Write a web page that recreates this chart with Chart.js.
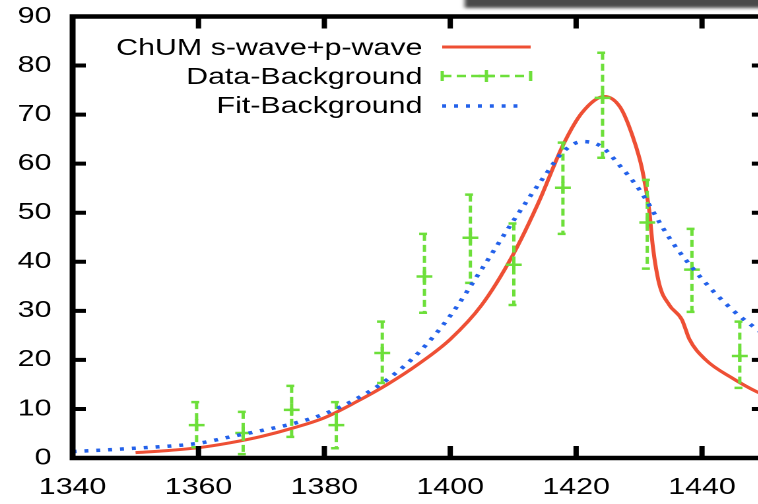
<!DOCTYPE html>
<html>
<head>
<meta charset="utf-8">
<script src="https://cdn.jsdelivr.net/npm/chart.js@4.4.0/dist/chart.umd.min.js"></script>
<style>
  html, body { margin: 0; padding: 0; background: #fff; overflow: hidden; width: 758px; height: 504px; }
  /* the source picture is stretched sideways, so the whole chart is too */
  #wrap { width: 600px; height: 504px; transform: scaleX(1.32); transform-origin: 0 0; }
</style>
</head>
<body>
<div id="wrap"><canvas id="c" width="600" height="504"></canvas></div>
<script>
const xTickValues = [1340, 1360, 1380, 1400, 1420, 1440];
const yTickValues = [0, 10, 20, 30, 40, 50, 60, 70, 80, 90];

const seriesNames = ['ChUM s-wave+p-wave', 'Data-Background', 'Fit-Background'];

// ChUM s-wave+p-wave (red, solid)
const chumX = [1350, 1355, 1360, 1365, 1370, 1375, 1380, 1385, 1390, 1395, 1400, 1405, 1410, 1414,
               1418, 1421, 1424.5, 1427, 1429, 1430.5, 1431.6, 1432.2, 1433.2, 1434.8, 1436.8, 1438,
               1440.6, 1444.8, 1448.7, 1450];
const chumY = [1.1, 1.5, 2.1, 3.1, 4.4, 6.1, 8.2, 11.4, 15.0, 19.2, 24.2, 31.2, 41.5, 52.0,
               64.0, 70.5, 73.7, 71.5, 65.5, 58.8, 50.6, 43.0, 35.5, 31.2, 28.2, 24.2,
               20.0, 16.3, 13.5, 12.8];

// Data-Background (green points with error bars)
const dataX    = [1359.7, 1367.1, 1374.8, 1381.9, 1389.2, 1395.9, 1403.2, 1410.1, 1417.9, 1424.2, 1431.3, 1438.4, 1446.0];
const dataY    = [6.7, 5.1, 9.8, 6.7, 21.4, 37.0, 44.9, 39.4, 55.1, 73.4, 48.0, 38.4, 20.8];
const dataLow  = [2.2, 0.8, 4.3, 2.0, 15.3, 29.6, 35.7, 31.2, 45.7, 61.2, 38.6, 29.8, 14.3];
const dataHigh = [11.4, 9.4, 14.7, 11.4, 27.8, 45.7, 53.7, 47.8, 64.3, 82.6, 56.7, 46.7, 27.8];

// Fit-Background (blue, dotted)
const fitX = [1340, 1350, 1360, 1365, 1370, 1375, 1380, 1385, 1390, 1395, 1400, 1405, 1410, 1415,
              1418, 1421, 1424, 1427, 1430, 1435, 1440, 1445, 1450];
const fitY = [1.3, 2.0, 3.0, 4.3, 5.6, 7.0, 9.0, 12.0, 16.0, 21.5, 29.0, 38.5, 48.3, 57.5,
              62.5, 64.5, 63.5, 59.5, 54.8, 44.5, 36.5, 30.0, 25.0];

const RED = '#ee4f34', GREEN = '#6ddf3a', BLUE = '#2361ea';
const FONT = '"Liberation Sans", Arial, Helvetica, sans-serif';
const errDash = [7, 4];

const pts = (xs, ys) => xs.map((x, i) => ({ x: x, y: ys[i] }));

// no extra room for labels at the ends of the axes
const noPad = s => { s.paddingTop = 0; s.paddingBottom = 0; s.paddingLeft = 0; s.paddingRight = 0; };

// grey window shadow at the top edge of the screenshot
const shadowPlugin = {
  id: 'shadow',
  beforeDraw(chart) {
    const ctx = chart.ctx;
    ctx.save();
    ctx.fillStyle = '#fff';
    ctx.fillRect(0, 0, chart.width, chart.height);
    ctx.filter = 'blur(3px)';
    ctx.fillStyle = '#4a4a4a';
    ctx.fillRect(352, -12, 300, 20);
    ctx.restore();
  }
};

// error bars, drawn just before the green markers
const errorBarPlugin = {
  id: 'errorBars',
  beforeDatasetDraw(chart, args) {
    if (args.index !== 1) return;
    const ctx = chart.ctx, xs = chart.scales.x, ys = chart.scales.y, a = chart.chartArea;
    ctx.save();
    ctx.beginPath();
    ctx.rect(a.left, a.top, a.right - a.left, a.bottom - a.top);
    ctx.clip();
    ctx.strokeStyle = GREEN;
    ctx.lineWidth = 2.5;
    ctx.setLineDash(errDash);
    dataX.forEach((v, i) => {
      const px = xs.getPixelForValue(v);
      const lo = ys.getPixelForValue(dataLow[i]);
      const hi = ys.getPixelForValue(dataHigh[i]);
      ctx.beginPath();
      ctx.moveTo(px, hi); ctx.lineTo(px, lo);
      ctx.stroke();
      ctx.beginPath();
      ctx.moveTo(px - 4, hi); ctx.lineTo(px + 2, hi);
      ctx.moveTo(px - 4, lo); ctx.lineTo(px + 2, lo);
      ctx.stroke();
    });
    ctx.restore();
  }
};

// gnuplot style frame with inward ticks, and the key
const framePlugin = {
  id: 'frame',
  afterDraw(chart) {
    const ctx = chart.ctx, a = chart.chartArea, xs = chart.scales.x, ys = chart.scales.y;
    ctx.save();
    ctx.strokeStyle = '#000';
    ctx.lineWidth = 4.5;
    ctx.strokeRect(a.left, a.top, a.right - a.left, a.bottom - a.top);
    ctx.lineWidth = 4;
    ctx.beginPath();
    xs.ticks.forEach(t => {
      if (t.value === xs.min || t.value === xs.max) return;
      const px = xs.getPixelForValue(t.value);
      ctx.moveTo(px, a.bottom); ctx.lineTo(px, a.bottom - 12);
      ctx.moveTo(px, a.top); ctx.lineTo(px, a.top + 12);
    });
    ys.ticks.forEach(t => {
      if (t.value === ys.min || t.value === ys.max) return;
      const py = ys.getPixelForValue(t.value);
      ctx.moveTo(a.left, py); ctx.lineTo(a.left + 10, py);
      ctx.moveTo(a.right, py); ctx.lineTo(a.right - 10, py);
    });
    ctx.stroke();

    // key
    const textRight = 320, s0 = 335, s1 = 402;
    const baselines = [55, 84, 113], lines = [47, 76, 106];
    ctx.font = '23px ' + FONT;
    ctx.fillStyle = '#000';
    ctx.textAlign = 'right';
    ctx.textBaseline = 'alphabetic';
    chart.data.datasets.forEach((ds, i) => {
      ctx.fillText(ds.label, textRight, baselines[i]);
      const y = lines[i];
      ctx.strokeStyle = ds.borderColor;
      if (i === 1) {
        ctx.lineWidth = 2.5;
        ctx.setLineDash(errDash);
        ctx.beginPath();
        ctx.moveTo(s0, y); ctx.lineTo(s1, y);
        ctx.stroke();
        ctx.setLineDash([]);
        ctx.beginPath();
        ctx.moveTo(s0, y - 5); ctx.lineTo(s0, y + 5);
        ctx.moveTo(s1, y - 5); ctx.lineTo(s1, y + 5);
        const m = (s0 + s1) / 2;
        ctx.moveTo(m - 6, y); ctx.lineTo(m + 6, y);
        ctx.moveTo(m, y - 6); ctx.lineTo(m, y + 6);
        ctx.stroke();
      } else {
        ctx.lineWidth = ds.borderWidth;
        ctx.setLineDash(ds.borderDash || []);
        ctx.beginPath();
        ctx.moveTo(s0, y); ctx.lineTo(i === 2 ? s1 - 4 : s1, y);
        ctx.stroke();
        ctx.setLineDash([]);
      }
    });
    ctx.restore();
  }
};

new Chart(document.getElementById('c'), {
  type: 'scatter',
  data: {
    datasets: [
      {
        label: seriesNames[0],
        data: pts(chumX, chumY),
        showLine: true,
        borderColor: RED,
        borderWidth: 3,
        pointRadius: 0,
        tension: 0.4,
        cubicInterpolationMode: 'monotone',
        order: 3
      },
      {
        label: seriesNames[1],
        data: pts(dataX, dataY),
        showLine: false,
        borderColor: GREEN,
        backgroundColor: GREEN,
        pointStyle: 'cross',
        pointRadius: 6,
        pointBorderWidth: 2.5,
        order: 2
      },
      {
        label: seriesNames[2],
        data: pts(fitX, fitY),
        showLine: true,
        borderColor: BLUE,
        borderWidth: 3.5,
        borderDash: [3, 6],
        pointRadius: 0,
        tension: 0.4,
        cubicInterpolationMode: 'monotone',
        order: 1
      }
    ]
  },
  options: {
    responsive: false,
    animation: false,
    devicePixelRatio: 2,
    layout: { padding: { top: 16.5, right: 20.5, left: 0, bottom: 0 } },
    plugins: { legend: { display: false }, tooltip: { enabled: false } },
    scales: {
      x: {
        type: 'linear',
        min: 1340,
        max: 1450,
        afterBuildTicks: s => { s.ticks = xTickValues.map(v => ({ value: v })); },
        afterFit: s => { s.height = 46; noPad(s); },
        grid: { display: false, drawTicks: false },
        border: { display: false },
        ticks: { color: '#000', font: { family: FONT, size: 23 }, padding: 16, maxRotation: 0, autoSkip: false,
                 callback: v => String(v) }
      },
      y: {
        min: 0,
        max: 90,
        afterBuildTicks: s => { s.ticks = yTickValues.map(v => ({ value: v })); },
        afterFit: s => { s.width = 55; noPad(s); },
        grid: { display: false, drawTicks: false },
        border: { display: false },
        ticks: { color: '#000', font: { family: FONT, size: 23 }, padding: 16, autoSkip: false,
                 callback: v => String(v) }
      }
    }
  },
  plugins: [shadowPlugin, errorBarPlugin, framePlugin]
});
</script>
</body>
</html>
